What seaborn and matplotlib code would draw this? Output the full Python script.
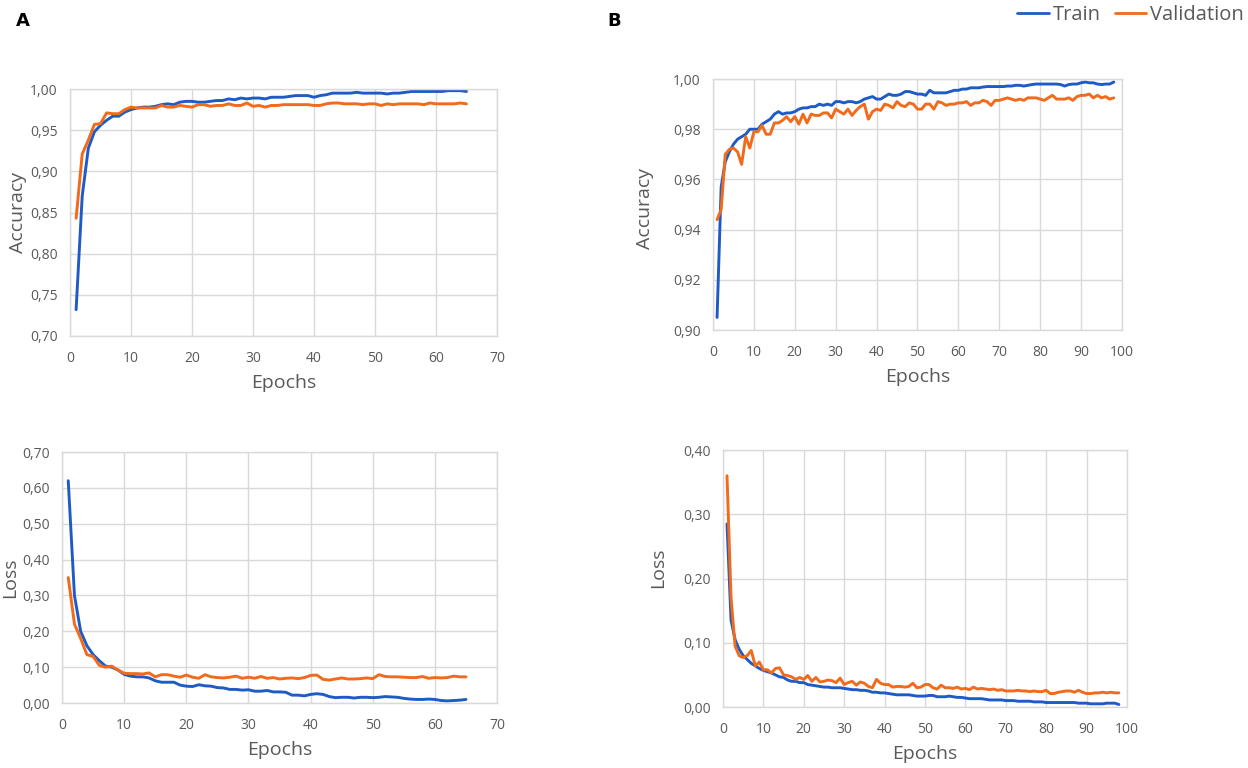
import matplotlib
matplotlib.use("Agg")
import matplotlib.pyplot as plt
import seaborn as sns
import pandas as pd
from matplotlib.ticker import FuncFormatter, MultipleLocator
from matplotlib.lines import Line2D

# ---------------- data ----------------
series_names = ["Train", "Validation"]
panel_labels = ["A", "B"]

a_train_acc = [0.732, 0.870, 0.928, 0.948, 0.956, 0.962, 0.967, 0.967, 0.972, 0.975,
               0.977, 0.978, 0.978, 0.979, 0.981, 0.982, 0.981, 0.984, 0.985, 0.985,
               0.984, 0.984, 0.985, 0.986, 0.986, 0.988, 0.987, 0.989, 0.988, 0.989,
               0.989, 0.988, 0.990, 0.990, 0.990, 0.991, 0.992, 0.992, 0.992, 0.990,
               0.992, 0.993, 0.995, 0.995, 0.995, 0.995, 0.996, 0.995, 0.995, 0.995,
               0.995, 0.994, 0.995, 0.995, 0.996, 0.997, 0.997, 0.997, 0.997, 0.997,
               0.997, 0.998, 0.998, 0.998, 0.997]
a_val_acc = [0.843, 0.921, 0.938, 0.957, 0.958, 0.971, 0.970, 0.970, 0.975, 0.978,
             0.977, 0.977, 0.977, 0.977, 0.980, 0.978, 0.978, 0.980, 0.979, 0.978,
             0.981, 0.981, 0.979, 0.980, 0.980, 0.982, 0.980, 0.980, 0.983, 0.979,
             0.980, 0.978, 0.980, 0.980, 0.981, 0.981, 0.981, 0.981, 0.981, 0.980,
             0.980, 0.982, 0.983, 0.983, 0.982, 0.982, 0.982, 0.981, 0.982, 0.982,
             0.980, 0.982, 0.981, 0.982, 0.982, 0.982, 0.982, 0.981, 0.983, 0.982,
             0.982, 0.982, 0.982, 0.983, 0.982]
a_train_loss = [0.62, 0.30, 0.20, 0.16, 0.135, 0.118, 0.103, 0.100, 0.092, 0.080,
                0.075, 0.073, 0.073, 0.070, 0.062, 0.058, 0.058, 0.058, 0.050, 0.047,
                0.046, 0.051, 0.048, 0.047, 0.043, 0.042, 0.038, 0.038, 0.036, 0.037,
                0.033, 0.033, 0.035, 0.031, 0.031, 0.030, 0.022, 0.022, 0.020, 0.024,
                0.026, 0.024, 0.018, 0.015, 0.016, 0.016, 0.014, 0.016, 0.016, 0.015,
                0.016, 0.018, 0.017, 0.016, 0.013, 0.011, 0.010, 0.010, 0.011, 0.010,
                0.007, 0.006, 0.007, 0.008, 0.010]
a_val_loss = [0.35, 0.22, 0.18, 0.135, 0.13, 0.105, 0.10, 0.103, 0.092, 0.083,
              0.082, 0.082, 0.081, 0.084, 0.073, 0.079, 0.079, 0.075, 0.072, 0.078,
              0.072, 0.069, 0.079, 0.073, 0.071, 0.070, 0.072, 0.075, 0.069, 0.072,
              0.069, 0.074, 0.069, 0.071, 0.067, 0.069, 0.070, 0.068, 0.071, 0.077,
              0.078, 0.066, 0.064, 0.067, 0.070, 0.067, 0.067, 0.068, 0.070, 0.068,
              0.079, 0.074, 0.073, 0.073, 0.072, 0.071, 0.071, 0.074, 0.069, 0.071,
              0.070, 0.071, 0.075, 0.073, 0.073]

b_train_acc = [0.905, 0.957, 0.967, 0.971, 0.974, 0.976, 0.977, 0.978, 0.980, 0.980,
               0.980, 0.982, 0.983, 0.984, 0.986, 0.987, 0.986, 0.9865, 0.9865, 0.987,
               0.988, 0.9885, 0.9885, 0.989, 0.989, 0.990, 0.9895, 0.990, 0.9895, 0.991,
               0.991, 0.9905, 0.991, 0.991, 0.9905, 0.991, 0.992, 0.9925, 0.993, 0.992,
               0.992, 0.993, 0.994, 0.9935, 0.9935, 0.994, 0.995, 0.995, 0.9945, 0.994,
               0.994, 0.9935, 0.9955, 0.9945, 0.9945, 0.9945, 0.9945, 0.995, 0.9955, 0.9955,
               0.996, 0.996, 0.9965, 0.9965, 0.9965, 0.9968, 0.997, 0.997, 0.997, 0.997,
               0.997, 0.9972, 0.9972, 0.9975, 0.9975, 0.9972, 0.9975, 0.9978, 0.998, 0.998,
               0.998, 0.998, 0.998, 0.998, 0.9978, 0.9972, 0.9978, 0.998, 0.998, 0.9985,
               0.9988, 0.9985, 0.9985, 0.998, 0.9978, 0.998, 0.998, 0.9988]
b_val_acc = [0.944, 0.948, 0.970, 0.972, 0.9725, 0.971, 0.966, 0.977, 0.9725, 0.979,
             0.979, 0.9815, 0.978, 0.978, 0.9825, 0.9825, 0.9835, 0.985, 0.983, 0.985,
             0.982, 0.986, 0.9825, 0.986, 0.9855, 0.9855, 0.9865, 0.9865, 0.9845, 0.988,
             0.987, 0.986, 0.988, 0.9855, 0.9875, 0.989, 0.990, 0.984, 0.987, 0.988,
             0.9875, 0.990, 0.9895, 0.9885, 0.991, 0.9895, 0.989, 0.9905, 0.990, 0.988,
             0.988, 0.990, 0.990, 0.988, 0.991, 0.9905, 0.9895, 0.990, 0.990, 0.9905,
             0.9905, 0.991, 0.9895, 0.9905, 0.9905, 0.9915, 0.991, 0.9895, 0.9915, 0.9915,
             0.992, 0.9925, 0.992, 0.9915, 0.992, 0.9915, 0.9925, 0.9925, 0.9925, 0.992,
             0.9915, 0.9925, 0.9935, 0.992, 0.992, 0.992, 0.9925, 0.9915, 0.993, 0.9935,
             0.9935, 0.994, 0.9925, 0.9935, 0.9925, 0.993, 0.992, 0.9925]
b_train_loss = [0.285, 0.135, 0.105, 0.090, 0.080, 0.074, 0.068, 0.064, 0.060, 0.057,
                0.055, 0.053, 0.050, 0.047, 0.046, 0.042, 0.040, 0.040, 0.038, 0.038,
                0.035, 0.034, 0.033, 0.032, 0.031, 0.031, 0.030, 0.030, 0.030, 0.029,
                0.028, 0.027, 0.027, 0.026, 0.026, 0.025, 0.023, 0.023, 0.022, 0.022,
                0.021, 0.020, 0.019, 0.019, 0.019, 0.019, 0.018, 0.017, 0.017, 0.017,
                0.018, 0.018, 0.016, 0.016, 0.016, 0.017, 0.016, 0.015, 0.015, 0.014,
                0.013, 0.013, 0.013, 0.013, 0.012, 0.011, 0.011, 0.011, 0.011, 0.010,
                0.010, 0.010, 0.009, 0.009, 0.009, 0.009, 0.008, 0.008, 0.008, 0.007,
                0.007, 0.007, 0.007, 0.007, 0.007, 0.007, 0.007, 0.006, 0.006, 0.006,
                0.005, 0.005, 0.005, 0.005, 0.006, 0.006, 0.006, 0.004]
b_val_loss = [0.36, 0.17, 0.095, 0.080, 0.077, 0.080, 0.088, 0.064, 0.070, 0.058,
              0.058, 0.053, 0.060, 0.061, 0.050, 0.049, 0.047, 0.043, 0.046, 0.043,
              0.049, 0.040, 0.046, 0.039, 0.040, 0.042, 0.041, 0.038, 0.045, 0.035,
              0.038, 0.040, 0.034, 0.039, 0.037, 0.032, 0.030, 0.043, 0.037, 0.035,
              0.035, 0.031, 0.032, 0.032, 0.031, 0.032, 0.037, 0.030, 0.031, 0.035,
              0.035, 0.030, 0.028, 0.034, 0.030, 0.030, 0.029, 0.031, 0.028, 0.029,
              0.027, 0.031, 0.028, 0.029, 0.028, 0.027, 0.028, 0.026, 0.027, 0.025,
              0.025, 0.025, 0.026, 0.025, 0.025, 0.024, 0.025, 0.024, 0.024, 0.026,
              0.021, 0.021, 0.023, 0.024, 0.025, 0.025, 0.023, 0.026, 0.023, 0.021,
              0.021, 0.022, 0.022, 0.023, 0.022, 0.023, 0.022, 0.022]

# ---------------- style ----------------
sns.set_theme(style="white")
plt.rcParams['font.family'] = ['Open Sans', 'DejaVu Sans']
TXT = "#595959"
GRID = "#D9D9D9"
palette = {"Train": "#1F5BC6", "Validation": "#F26A1B"}


def long_df(train, val):
    rows = []
    for name, vals in zip(series_names, (train, val)):
        for i, v in enumerate(vals):
            rows.append({"Epoch": i + 1, "Value": v, "Series": name})
    return pd.DataFrame(rows)


fig = plt.figure(figsize=(12.48, 7.68), dpi=100)

panels = [
    # rect, train, val, ylabel, xlim, xstep, ylim, ystep, xlab center, ylab center (axes coords)
    ([0.0561, 0.5625, 0.3421, 0.3216], a_train_acc, a_val_acc, "Accuracy",
     (0, 70), 10, (0.70, 1.00), 0.05, (0.50, -0.19), (-0.122, 0.50)),
    ([0.5713, 0.5703, 0.3277, 0.3268], b_train_acc, b_val_acc, "Accuracy",
     (0, 100), 10, (0.90, 1.00), 0.02, (0.50, -0.187), (-0.166, 0.486)),
    ([0.0497, 0.0846, 0.3486, 0.3268], a_train_loss, a_val_loss, "Loss",
     (0, 70), 10, (0.0, 0.70), 0.10, (0.50, -0.187), (-0.12, 0.50)),
    ([0.5793, 0.0794, 0.3237, 0.3346], b_train_loss, b_val_loss, "Loss",
     (0, 100), 10, (0.0, 0.40), 0.10, (0.50, -0.183), (-0.161, 0.541)),
]

comma = FuncFormatter(lambda v, p: f"{v:.2f}".replace(".", ","))

for rect, tr, va, ylab, xlim, xs, ylim, ys, xlc, ylc in panels:
    ax = fig.add_axes(rect)
    df = long_df(tr, va)
    sns.lineplot(data=df, x="Epoch", y="Value", hue="Series", palette=palette,
                 linewidth=2.1, ax=ax, legend=False)
    ax.set_xlim(*xlim)
    ax.set_ylim(*ylim)
    ax.xaxis.set_major_locator(MultipleLocator(xs))
    ax.yaxis.set_major_locator(MultipleLocator(ys))
    ax.yaxis.set_major_formatter(comma)
    ax.grid(True, color=GRID, linewidth=1.0)
    ax.set_axisbelow(True)
    for s in ax.spines.values():
        s.set_color(GRID)
        s.set_linewidth(1.0)
    ax.tick_params(axis="both", colors=TXT, labelsize=10, length=0)
    ax.tick_params(axis="x", pad=11)
    ax.tick_params(axis="y", pad=9)
    ax.set_xlabel("Epochs", fontsize=14, color=TXT)
    ax.set_ylabel(ylab, fontsize=14, color=TXT)
    ax.xaxis.label.set_verticalalignment("center")
    ax.yaxis.label.set_verticalalignment("center")
    ax.yaxis.label.set_horizontalalignment("center")
    ax.xaxis.set_label_coords(*xlc)
    ax.yaxis.set_label_coords(*ylc)

fig.text(0.0128, 0.985, "A", fontsize=13, fontweight="bold", color="black",
         ha="left", va="top", family="DejaVu Sans")
fig.text(0.487, 0.985, "B", fontsize=13, fontweight="bold", color="black",
         ha="left", va="top", family="DejaVu Sans")

handles = [Line2D([0], [0], color=palette[n], lw=2.0) for n in series_names]
fig.legend(handles, series_names, loc="upper right", bbox_to_anchor=(1.003, 1.004),
           borderaxespad=0.0, ncol=2, frameon=False, fontsize=14.5, labelcolor=TXT,
           handlelength=1.55, handletextpad=0.2, columnspacing=0.7)

fig.savefig("out.png", dpi=100)
